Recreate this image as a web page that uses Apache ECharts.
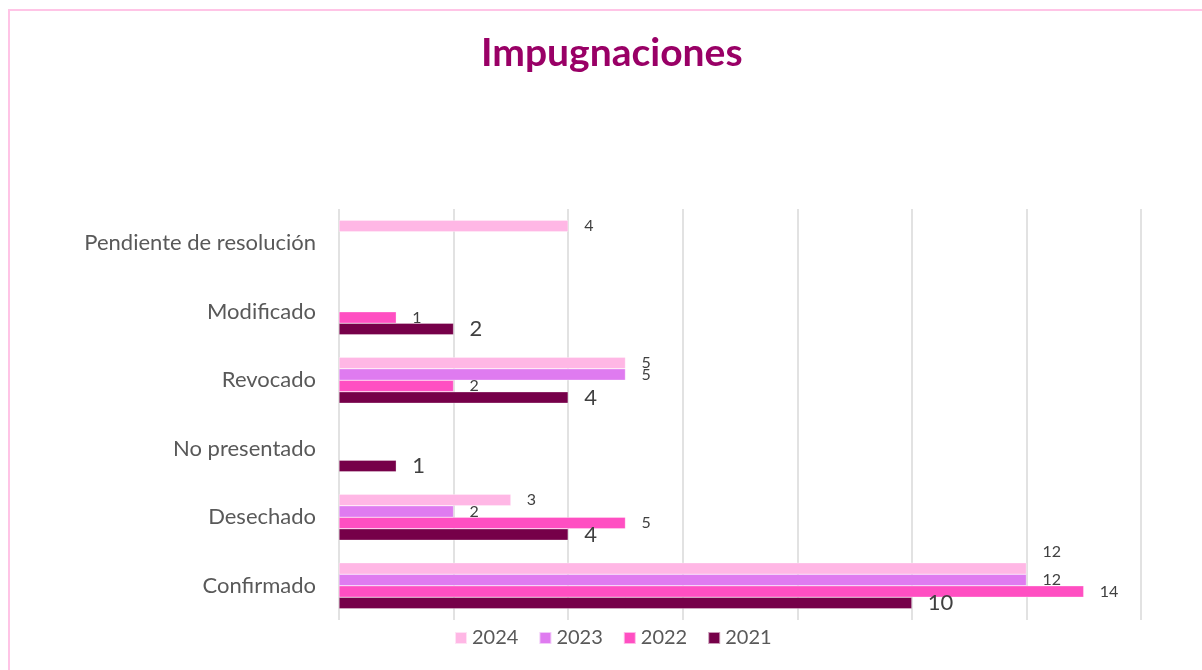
<!DOCTYPE html>
<html>
<head>
<meta charset="utf-8">
<script src="https://cdn.jsdelivr.net/npm/echarts@6/dist/echarts.min.js"></script>
<style>
  html, body { margin: 0; padding: 0; background: #fff; }
  #frame { position: absolute; left: 8px; top: 9px; width: 1194px; height: 661px;
           border-left: 2px solid #ffc4e6; border-top: 2px solid #ffc4e6; box-sizing: border-box; }
  #chart { position: absolute; left: 0; top: 0; width: 1202px; height: 670px; }
</style>
</head>
<body>
<div id="frame"></div>
<div id="chart"></div>
<script>
const categories = ['Confirmado', 'Desechado', 'No presentado', 'Revocado', 'Modificado', 'Pendiente de resolución'];
const years = ['2024', '2023', '2022', '2021'];
// bar lengths as drawn in the picture
const values2024 = [12, 3, null, 5, null, 4];
const values2023 = [12, 2, null, 5, null, null];
const values2022 = [13, 5, null, 2, 1, null];
const values2021 = [10, 4, 1, 4, 2, null];
// label texts as printed in the picture (the Confirmado 2022 bar is drawn at 13 but labelled 14)
const labels2022 = [14, 5, null, 2, 1, null];
const xTicks = [0, 2, 4, 6, 8, 10, 12, 14];

const colors = { '2024': '#ffb7e5', '2023': '#df7bf0', '2022': '#ff4fc2', '2021': '#760049' };
const seriesValues = { '2024': values2024, '2023': values2023, '2022': values2022, '2021': values2021 };
const seriesLabels = { '2022': labels2022 };

function makeSeries(year) {
  const big = year === '2021';
  const data = seriesValues[year].map(function (v, i) {
    const item = { value: v };
    const lbl = {};
    if (year === '2024' && categories[i] === 'Confirmado') {
      lbl.offset = [0, -17];
    }
    if (seriesLabels[year] && seriesLabels[year][i] !== v && seriesLabels[year][i] != null) {
      lbl.formatter = String(seriesLabels[year][i]);
    }
    if (Object.keys(lbl).length) item.label = lbl;
    return item;
  });
  return {
    name: year,
    type: 'bar',
    barWidth: 11.5,
    barGap: '0%',
    itemStyle: { color: colors[year], borderColor: 'rgba(255,255,255,0.6)', borderWidth: 0.5 },
    label: {
      show: true,
      position: 'right',
      distance: 16,
      color: '#404040',
      fontFamily: 'Lato',
      fontSize: big ? 22 : 16
    },
    data: data
  };
}

const chart = echarts.init(document.getElementById('chart'));
chart.setOption({
  animation: false,
  backgroundColor: 'transparent',
  title: {
    text: 'Impugnaciones',
    left: 476,
    top: 29,
    textStyle: { color: '#990066', fontFamily: 'Lato', fontWeight: 'bold', fontSize: 39 }
  },
  legend: {
    data: years,
    bottom: 17,
    left: 449,
    itemWidth: 12,
    itemHeight: 12,
    itemGap: 20,
    icon: 'rect',
    textStyle: { color: '#595959', fontFamily: 'Lato', fontSize: 20 }
  },
  grid: { left: 339, right: 61, top: 209, bottom: 50, containLabel: false },
  xAxis: {
    type: 'value',
    min: xTicks[0],
    max: xTicks[xTicks.length - 1],
    interval: 2,
    axisLabel: { show: false },
    axisLine: { show: false },
    axisTick: { show: false },
    splitLine: { show: true, lineStyle: { color: '#d9d9d9', width: 1.5 } }
  },
  yAxis: {
    type: 'category',
    data: categories,
    axisLine: { show: false },
    axisTick: { show: false },
    axisLabel: { color: '#595959', fontFamily: 'Lato', fontSize: 22, margin: 23 }
  },
  series: years.map(makeSeries)
});
</script>
</body>
</html>
